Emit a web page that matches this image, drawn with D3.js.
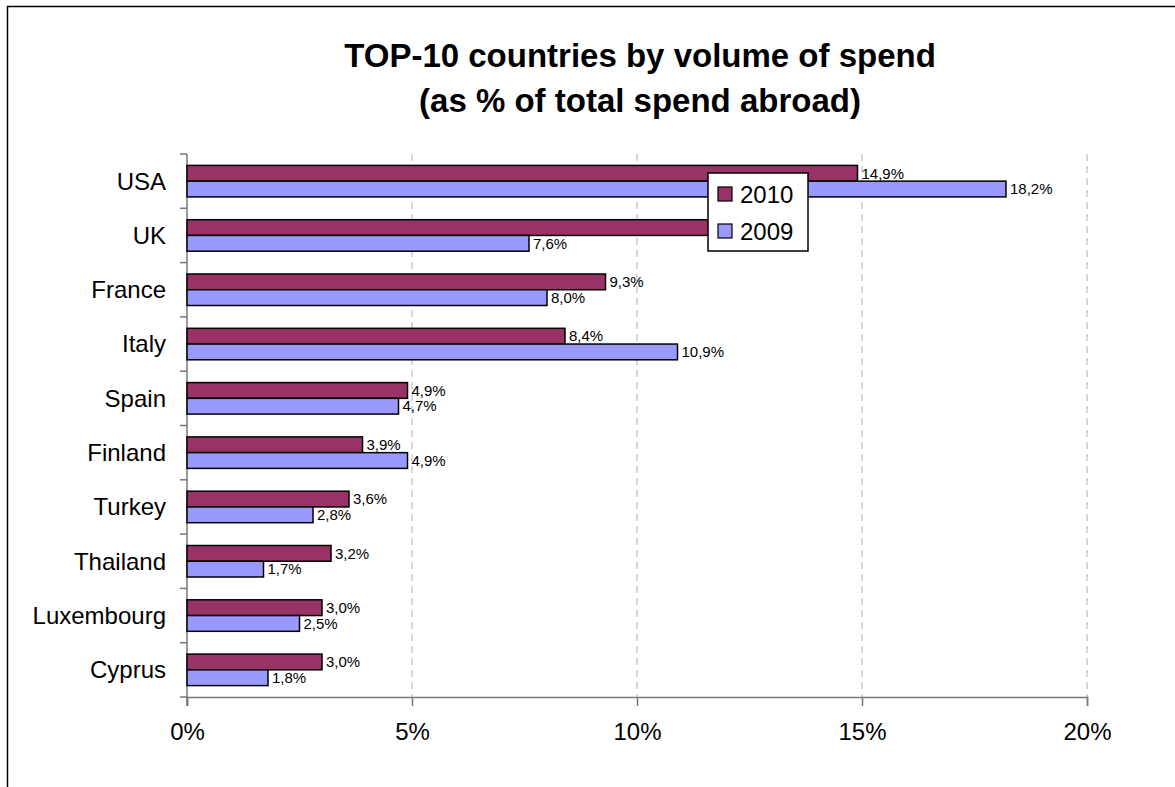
<!DOCTYPE html>
<html>
<head>
<meta charset="utf-8">
<script src="https://cdn.jsdelivr.net/npm/d3@7"></script>
<style>
  body { margin: 0; background: #fff; }
  text { font-family: Arial, "Liberation Sans", sans-serif; }
</style>
</head>
<body>
<div id="chart"></div>
<script>
// Chart data
const countries = ["USA", "UK", "France", "Italy", "Spain", "Finland", "Turkey", "Thailand", "Luxembourg", "Cyprus"];
const values2010 = [14.9, 12.3, 9.3, 8.4, 4.9, 3.9, 3.6, 3.2, 3.0, 3.0];
const values2009 = [18.2, 7.6, 8.0, 10.9, 4.7, 4.9, 2.8, 1.7, 2.5, 1.8];
const seriesNames = ["2010", "2009"];
const xTicks = [0, 5, 10, 15, 20];

const width = 1175;
const height = 787;
const margin = { top: 154, right: 88, bottom: 90, left: 187 };
const innerW = width - margin.left - margin.right;
const innerH = height - margin.top - margin.bottom;

const colors = { "2010": "#993366", "2009": "#9999ff" };

// legend box position (the UK 2010 label sits under it in the original)
const legendBox = { x: 708, y: 173, w: 100, h: 78 };

const svg = d3.select("#chart")
    .append("svg")
    .attr("width", width)
    .attr("height", height);

// outer frame
svg.append("rect")
    .attr("x", 7.5)
    .attr("y", 6.5)
    .attr("width", width)
    .attr("height", height)
    .attr("fill", "#fff")
    .attr("stroke", "#000")
    .attr("stroke-width", 1.5);

// title
svg.append("text")
    .attr("x", 640)
    .attr("y", 67)
    .attr("text-anchor", "middle")
    .style("font-size", "33px")
    .style("font-weight", "bold")
    .text("TOP-10 countries by volume of spend");

svg.append("text")
    .attr("x", 640)
    .attr("y", 112)
    .attr("text-anchor", "middle")
    .style("font-size", "33px")
    .style("font-weight", "bold")
    .text("(as % of total spend abroad)");

const g = svg.append("g")
    .attr("transform", `translate(${margin.left},${margin.top})`);

const xScale = d3.scaleLinear()
    .domain([0, 20])
    .range([0, innerW]);

const yScale = d3.scaleBand()
    .domain(countries)
    .range([0, innerH])
    .paddingInner(0.42)
    .paddingOuter(0.21);

const subScale = d3.scaleBand()
    .domain(seriesNames)
    .range([0, yScale.bandwidth()]);

// dashed gridlines
g.selectAll(".grid")
    .data(xTicks.filter(d => d > 0))
    .enter().append("line")
    .attr("class", "grid")
    .attr("x1", d => xScale(d))
    .attr("x2", d => xScale(d))
    .attr("y1", 0)
    .attr("y2", innerH)
    .attr("stroke", "#b0b0b0")
    .attr("stroke-width", 1)
    .attr("stroke-dasharray", "7,5");

// x axis
const xAxis = g.append("g")
    .attr("transform", `translate(0,${innerH})`)
    .call(d3.axisBottom(xScale)
        .tickValues(xTicks)
        .tickSize(9)
        .tickPadding(17)
        .tickFormat(d => d + "%"));
xAxis.select(".domain").attr("stroke", "#777").attr("stroke-width", 1.5);
xAxis.selectAll(".tick line").attr("stroke", "#777").attr("stroke-width", 1.5);
xAxis.selectAll(".tick text")
    .style("font-size", "24px")
    .attr("fill", "#000");

// y axis with ticks between categories
const bounds = d3.range(countries.length + 1).map(i => i * innerH / countries.length);
g.append("line")
    .attr("x1", 0).attr("x2", 0)
    .attr("y1", 0).attr("y2", innerH + 9)
    .attr("stroke", "#777")
    .attr("stroke-width", 1.5);
g.selectAll(".ytick")
    .data(bounds)
    .enter().append("line")
    .attr("class", "ytick")
    .attr("x1", -7).attr("x2", 0)
    .attr("y1", d => d).attr("y2", d => d)
    .attr("stroke", "#777")
    .attr("stroke-width", 1.5);

g.selectAll(".ylabel")
    .data(countries)
    .enter().append("text")
    .attr("class", "ylabel")
    .attr("x", -21)
    .attr("y", d => yScale(d) + yScale.bandwidth() / 2)
    .attr("dy", "0.35em")
    .attr("text-anchor", "end")
    .style("font-size", "24px")
    .text(d => d);

// bars
const rows = countries.map((c, i) => ({
    country: c,
    values: [
        { series: "2010", value: values2010[i] },
        { series: "2009", value: values2009[i] }
    ]
}));

const groups = g.selectAll(".country")
    .data(rows)
    .enter().append("g")
    .attr("class", "country")
    .attr("transform", d => `translate(0,${yScale(d.country)})`);

groups.selectAll("rect")
    .data(d => d.values)
    .enter().append("rect")
    .attr("x", 0)
    .attr("y", d => subScale(d.series))
    .attr("width", d => xScale(d.value))
    .attr("height", subScale.bandwidth())
    .attr("fill", d => colors[d.series])
    .attr("stroke", "#000")
    .attr("stroke-width", 1.5);

// value labels; skip the one that is covered by the legend
groups.each(function (row) {
    const rowY = margin.top + yScale(row.country);
    d3.select(this).selectAll(".vlabel")
        .data(row.values.filter(d => {
            const lx = margin.left + xScale(d.value) + 4;
            const ly = rowY + subScale(d.series) + subScale.bandwidth() / 2;
            return !(lx > legendBox.x - 40 && lx < legendBox.x + legendBox.w &&
                     ly > legendBox.y && ly < legendBox.y + legendBox.h);
        }))
        .enter().append("text")
        .attr("class", "vlabel")
        .attr("x", d => xScale(d.value) + 4)
        .attr("y", d => subScale(d.series) + subScale.bandwidth() / 2)
        .attr("dy", "0.35em")
        .style("font-size", "15px")
        .text(d => d.value.toFixed(1).replace(".", ",") + "%");
});

// legend
const legend = svg.append("g")
    .attr("transform", `translate(${legendBox.x},${legendBox.y})`);
legend.append("rect")
    .attr("width", legendBox.w)
    .attr("height", legendBox.h)
    .attr("fill", "#fff")
    .attr("stroke", "#000")
    .attr("stroke-width", 1.5);
seriesNames.forEach((s, i) => {
    legend.append("rect")
        .attr("x", 10)
        .attr("y", 14 + i * 37)
        .attr("width", 14)
        .attr("height", 14)
        .attr("fill", colors[s])
        .attr("stroke", "#000")
        .attr("stroke-width", 1.2);
    legend.append("text")
        .attr("x", 32)
        .attr("y", 21 + i * 37)
        .attr("dy", "0.36em")
        .style("font-size", "24px")
        .text(s);
});
</script>
</body>
</html>
